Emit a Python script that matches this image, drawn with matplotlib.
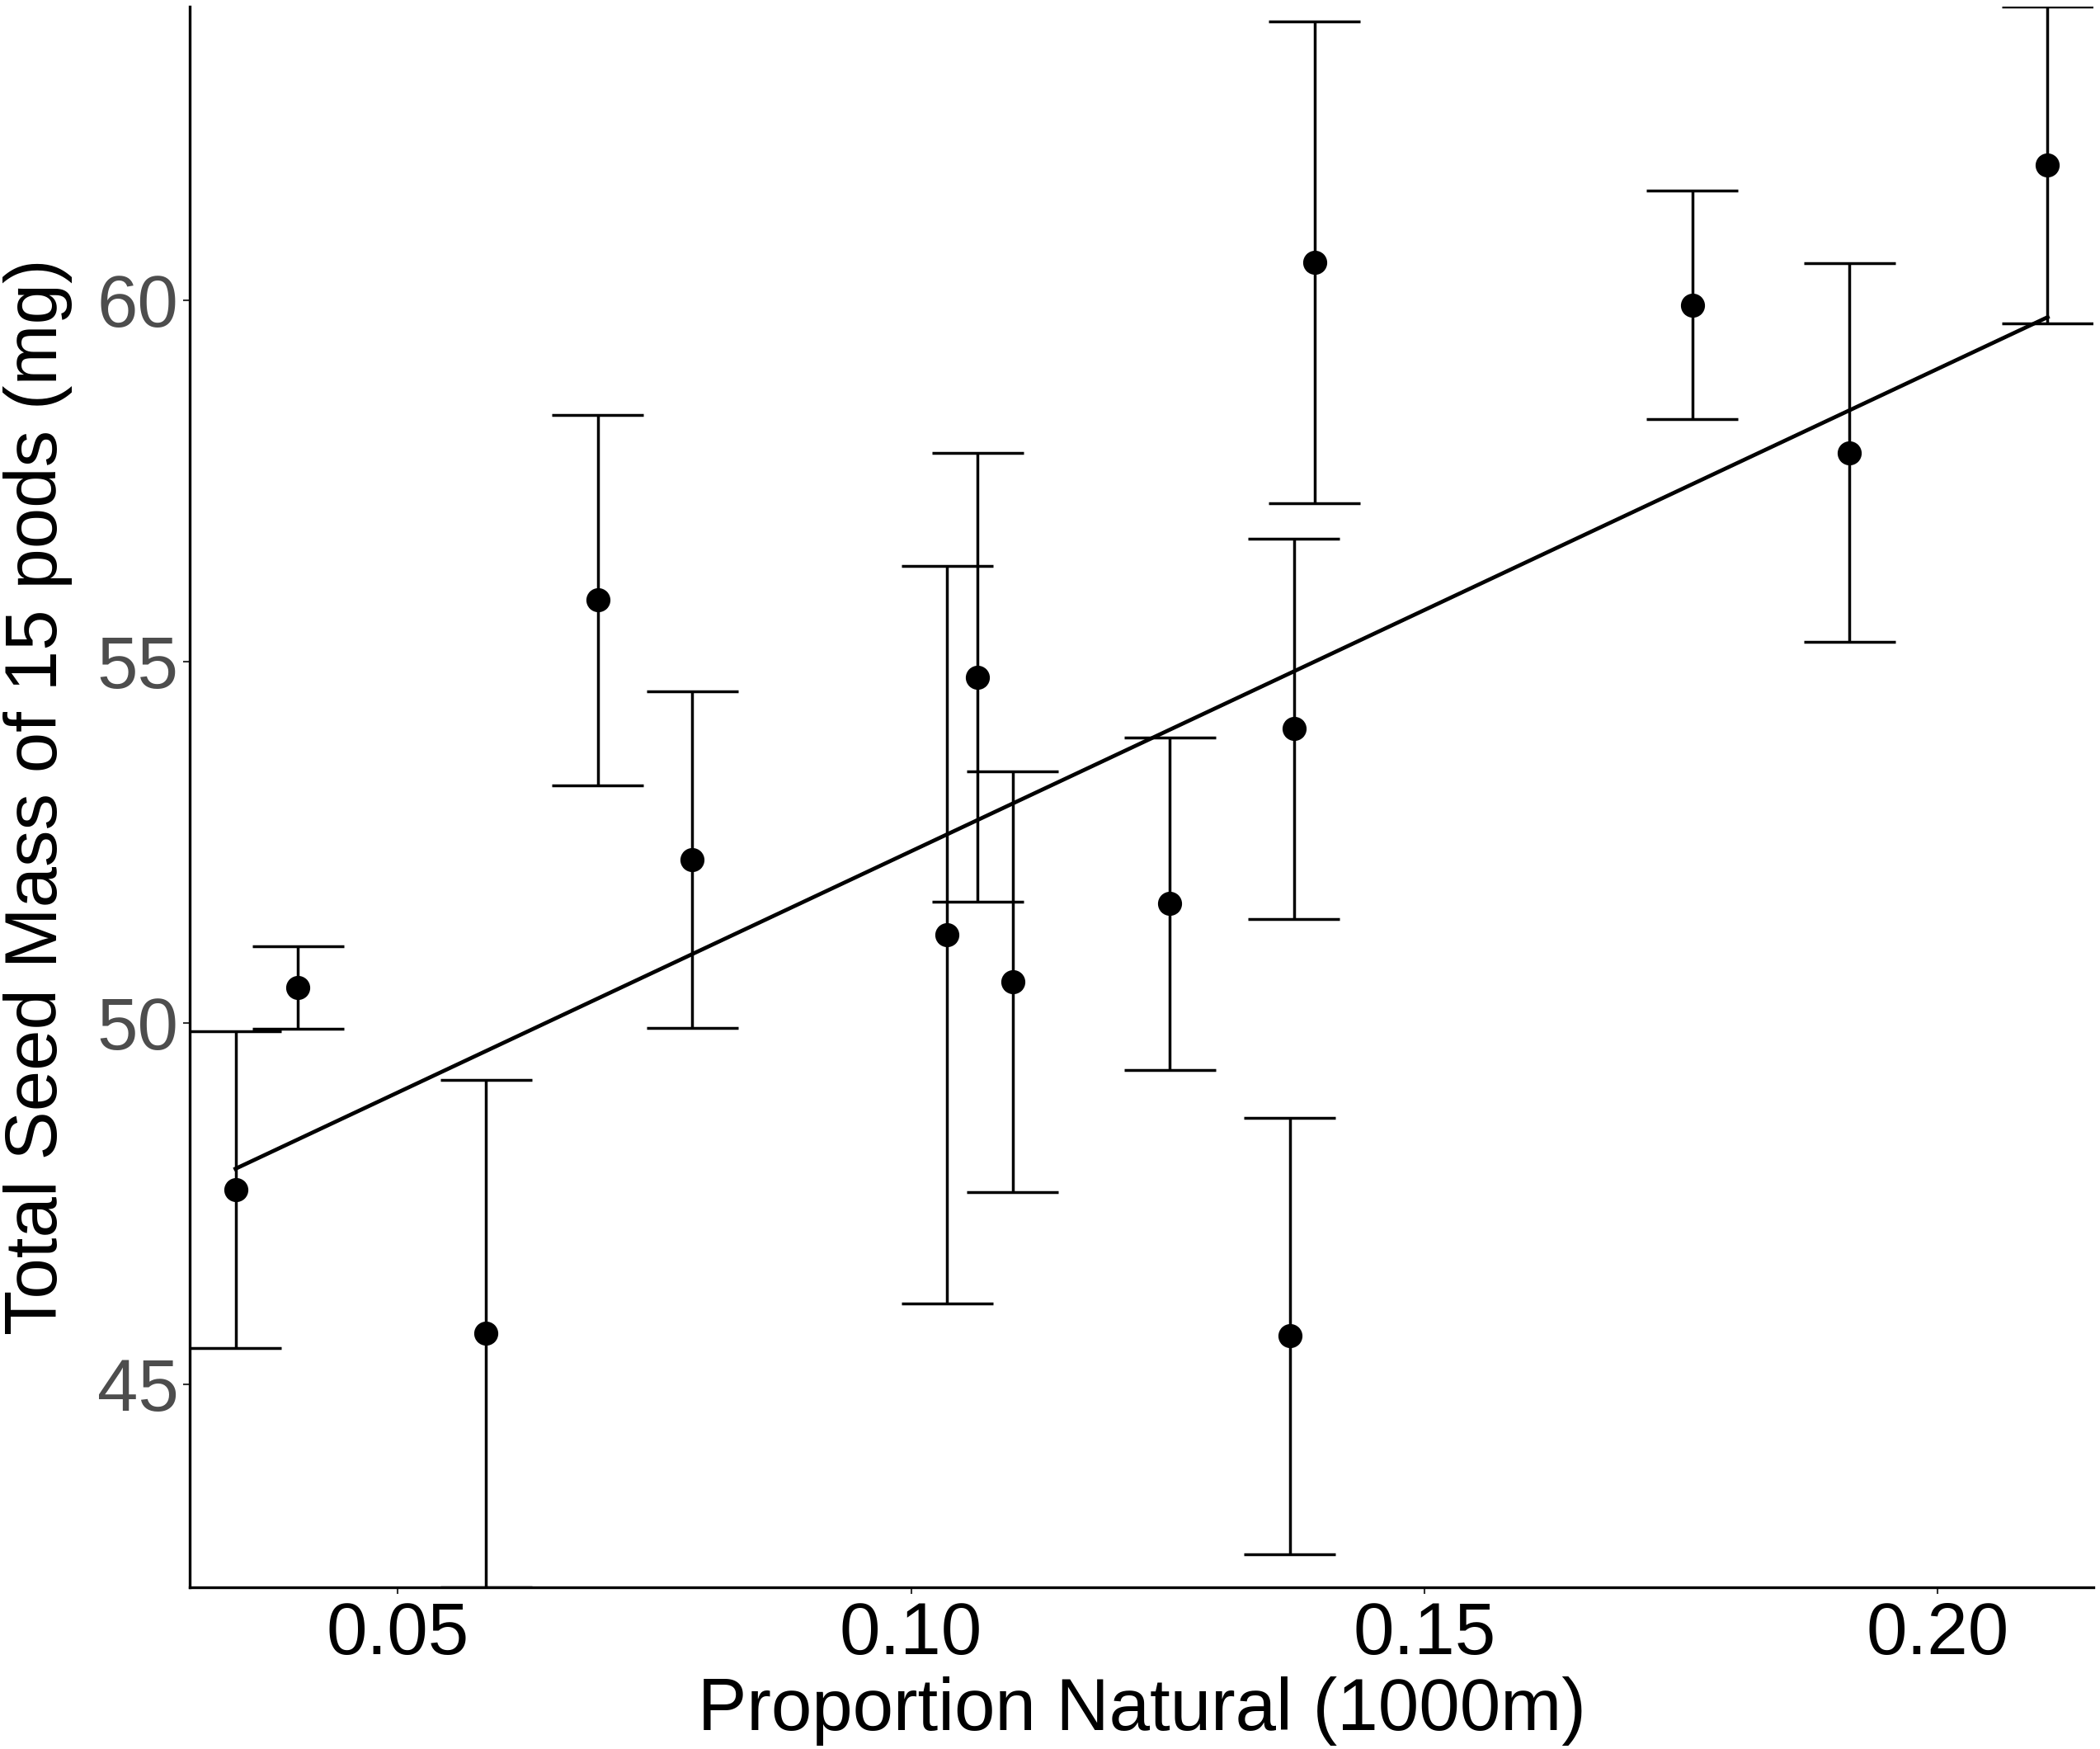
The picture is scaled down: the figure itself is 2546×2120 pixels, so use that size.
import numpy as np
import matplotlib
matplotlib.use('Agg')
import matplotlib.pyplot as plt

plt.rcParams['font.family'] = ['Liberation Sans', 'DejaVu Sans']

# site means with symmetric error bar half-widths
prop_natural = [0.0342, 0.0403, 0.0586, 0.0695, 0.0787, 0.1035, 0.1065, 0.1099,
                0.1252, 0.1369, 0.1373, 0.1393, 0.1761, 0.1914, 0.2107]
seed_mass = [47.69, 50.49, 45.70, 55.85, 52.26, 51.22, 54.78, 50.57,
             51.65, 45.67, 54.07, 60.52, 59.93, 57.89, 61.87]
seed_err = [2.19, 0.57, 3.51, 2.56, 2.33, 5.10, 3.11, 2.91,
            2.30, 3.02, 2.63, 3.33, 1.58, 2.62, 2.19]

x_ticks = [0.05, 0.10, 0.15, 0.20]
x_tick_labels = ['0.05', '0.10', '0.15', '0.20']
y_ticks = [45, 50, 55, 60]
y_tick_labels = ['45', '50', '55', '60']

cap_half = 0.00446  # errorbar cap half width in data units

x = np.array(prop_natural)
y = np.array(seed_mass)
e = np.array(seed_err)
lo = y - e
hi = y + e

fig = plt.figure(figsize=(25.46, 21.2), dpi=100)
ax = fig.add_axes([230 / 2546, 1 - 1924 / 2120, (2538 - 230) / 2546, (1924 - 8) / 2120])

# error bars
ax.vlines(x, lo, hi, color='black', lw=2.5, zorder=2)
ax.hlines(lo, x - cap_half, x + cap_half, color='black', lw=2.5, zorder=2)
ax.hlines(hi, x - cap_half, x + cap_half, color='black', lw=2.5, zorder=2)

# linear fit
slope, intercept = np.polyfit(x, y, 1)
xf = np.array([x.min(), x.max()])
ax.plot(xf, intercept + slope * xf, color='black', lw=3.4, zorder=3)

ax.plot(x, y, 'o', color='black', ms=20, zorder=4)

ax.set_xlim(x.min() - cap_half, x.max() + cap_half)
ax.set_ylim(lo.min(), hi.max())

ax.set_xticks(x_ticks)
ax.set_xticklabels(x_tick_labels)
ax.set_yticks(y_ticks)
ax.set_yticklabels(y_tick_labels)

for side in ['top', 'right']:
    ax.spines[side].set_visible(False)
for side in ['left', 'bottom']:
    ax.spines[side].set_linewidth(2.4)
    ax.spines[side].set_zorder(5)

ax.tick_params(axis='both', length=5.8, width=1.5, color='#333333', labelsize=64)
ax.tick_params(axis='x', pad=6.0, labelcolor='black')
ax.tick_params(axis='y', pad=4.0, labelcolor='#4D4D4D')

ax.set_xlabel('Proportion Natural (1000m)', fontsize=64)
ax.set_ylabel('Total Seed Mass of 15 pods (mg)', fontsize=64)
ax.xaxis.set_label_coords(0.5, -0.0562)
ax.yaxis.set_label_coords(-0.0615, 0.5)

fig.savefig('out.png', dpi=100)
